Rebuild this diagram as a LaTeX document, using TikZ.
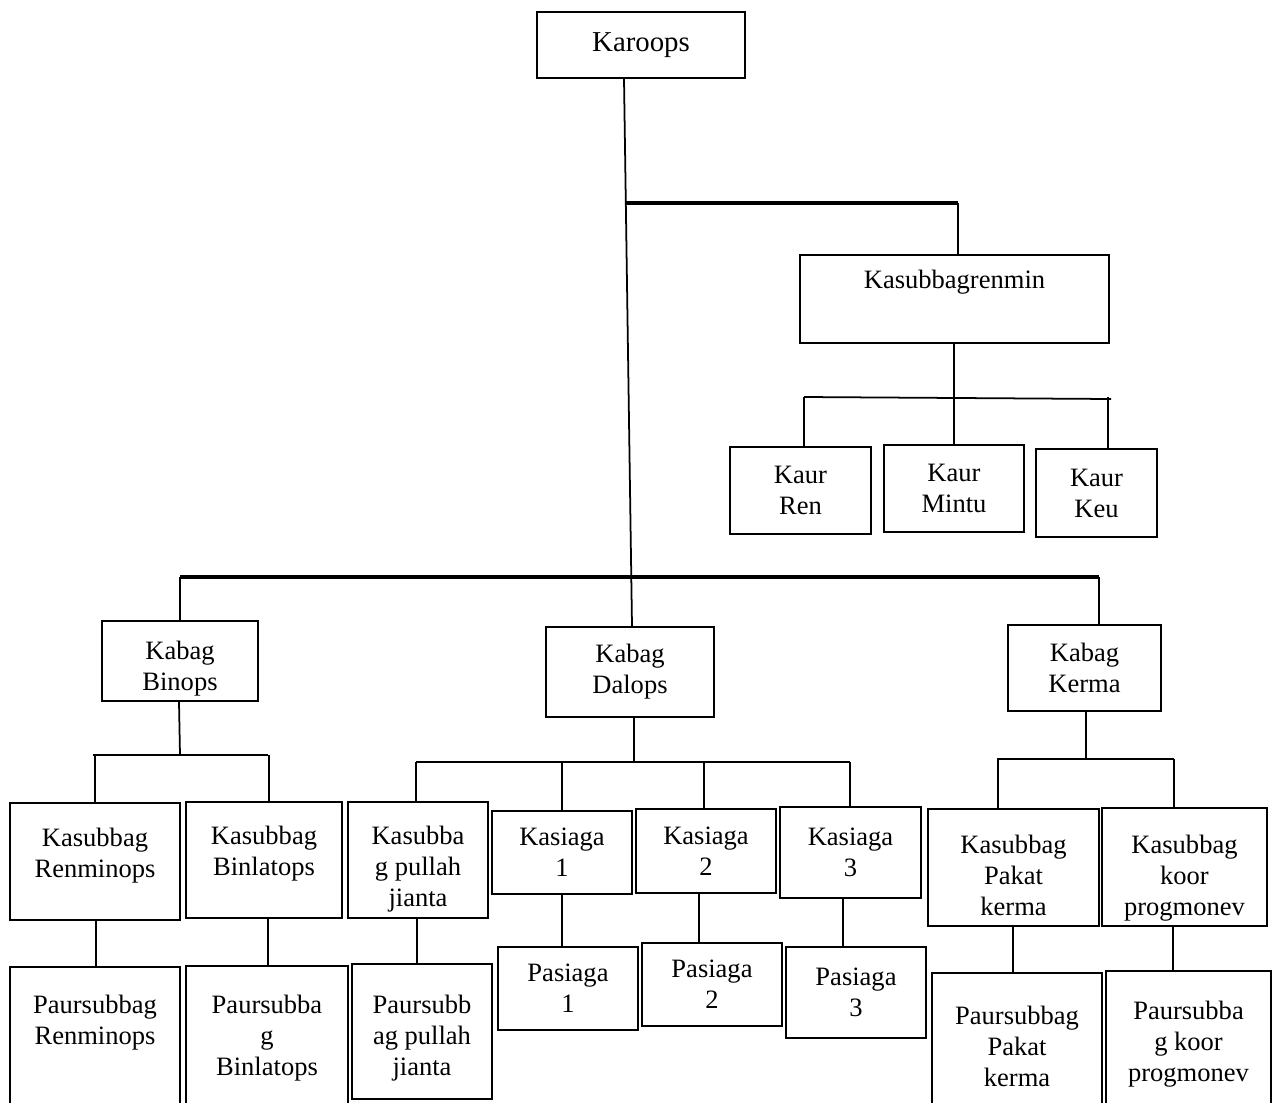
\documentclass[tikz,border=0pt]{standalone}
\usepackage{fontspec}
\setmainfont{Liberation Serif}

\tikzset{
  box/.style={draw, line width=1.1pt, inner sep=0pt, align=center, font=\fontsize{15.1}{17.6}\selectfont},
  bus/.style={line width=1.9pt},
  subbus/.style={line width=1.4pt},
  link/.style={line width=1pt},
}

\begin{document}
\begin{tikzpicture}[x=0.02cm, y=-0.02cm]
  \useasboundingbox (0,0) rectangle (1277,1102);
  \clip (0,0) rectangle (1277,1102);
  % top levels
  \node[box, minimum width=4.16cm, minimum height=1.32cm, font=\fontsize{16.4}{19}\selectfont] (karoops) at (641,45) {Karoops};
  \node[box, minimum width=6.18cm, minimum height=1.76cm] (renmin) at (954.5,299) {Kasubbagrenmin\\\strut};
  \node[box, minimum width=2.82cm, minimum height=1.74cm] (kren) at (800.5,490.5) {Kaur\\Ren};
  \node[box, minimum width=2.80cm, minimum height=1.74cm] (kmintu) at (954,488.5) {Kaur\\Mintu};
  \node[box, minimum width=2.42cm, minimum height=1.76cm] (kkeu) at (1096.5,493) {Kaur\\Keu};
  \node[box, minimum width=3.12cm, minimum height=1.60cm] (binops) at (180,661) {\rule{0pt}{19.3pt}Kabag\\Binops};
  \node[box, minimum width=3.36cm, minimum height=1.80cm] (dalops) at (630,672) {Kabag\\Dalops};
  \node[box, minimum width=3.06cm, minimum height=1.72cm] (kerma) at (1084.5,668) {Kabag\\Kerma};
  % kasubbag / kasiaga
  \node[box, minimum width=3.40cm, minimum height=2.34cm] (renminops) at (95,861.5) {Kasubbag\\Renminops\rule[-10pt]{0pt}{0pt}};
  \node[box, minimum width=3.12cm, minimum height=2.32cm] (binlatops) at (264,860) {Kasubbag\\Binlatops\rule[-11pt]{0pt}{0pt}};
  \node[box, minimum width=2.80cm, minimum height=2.32cm] (pullah) at (418,860) {\rule{0pt}{20.5pt}Kasubba\\g pullah\\jianta};
  \node[box, minimum width=2.80cm, minimum height=1.66cm] (siaga1) at (562,852.5) {Kasiaga\\1};
  \node[box, minimum width=2.80cm, minimum height=1.68cm] (siaga2) at (706,851) {Kasiaga\\2};
  \node[box, minimum width=2.82cm, minimum height=1.82cm] (siaga3) at (850.5,852.5) {Kasiaga\\3};
  \node[box, minimum width=3.42cm, minimum height=2.34cm] (pakat) at (1013.5,867.5) {\rule{0pt}{19.3pt}Kasubbag\\Pakat\\kerma};
  \node[box, minimum width=3.30cm, minimum height=2.36cm] (koor) at (1184.5,867) {\rule{0pt}{22.7pt}Kasubbag\\koor\\progmonev};
  % paursubbag / pasiaga
  \node[box, minimum width=3.40cm, minimum height=2.92cm] (prenminops) at (95,1040) {Paursubbag\\Renminops\\\strut};
  \node[box, minimum width=3.24cm, minimum height=2.88cm] (pbinlatops) at (267,1038) {Paursubba\\g\\Binlatops};
  \node[box, minimum width=2.80cm, minimum height=2.70cm] (ppullah) at (422,1031.5) {\rule{0pt}{18.3pt}Paursubb\\ag pullah\\jianta};
  \node[box, minimum width=2.80cm, minimum height=1.66cm] (pas1) at (568,988.5) {Pasiaga\\1};
  \node[box, minimum width=2.80cm, minimum height=1.66cm] (pas2) at (712,984.5) {Pasiaga\\2};
  \node[box, minimum width=2.80cm, minimum height=1.82cm] (pas3) at (856,992.5) {Pasiaga\\3};
  \node[box, minimum width=3.40cm, minimum height=2.92cm] (ppakat) at (1017,1046) {Paursubbag\\Pakat\\kerma};
  \node[box, minimum width=3.30cm, minimum height=2.92cm] (pkoor) at (1188.5,1044) {Paursubba\\g koor\\progmonev};

  % spine and upper bus
  \draw[link] (karoops.south -| 624,0) -- (dalops.north -| 632,0);
  \coordinate (topl) at (625,203);
  \coordinate (topr) at (958,203);
  \draw[bus] (topl) -- (topr);
  \draw[link] (topr) -- (renmin.north -| topr);
  \draw[subbus] (renmin.south -| 954,0) -- (954,397);
  \draw[link] (804,397) -- (1111,399);
  \foreach \x/\n in {804/kren, 954/kmintu, 1108/kkeu}
    \draw[link] (\x,397) -- (\n.north -| \x,0);

  % lower bus
  \draw[bus] (180,577) -- (1099,577);
  \foreach \x/\n in {180/binops, 1099/kerma}
    \draw[link] (\x,577) -- (\n.north -| \x,0);

  % binops
  \draw[link] (binops.south -| 179,0) -- (180,755);
  \draw[subbus] (93,755) -- (268,755);
  \foreach \x/\n in {95/renminops, 269/binlatops}
    \draw[subbus] (\x,755) -- (\n.north -| \x,0);

  % dalops
  \draw[link] (dalops.south -| 634,0) -- (634,762);
  \draw[subbus] (416,762) -- (850,762);
  \foreach \x/\n in {416/pullah, 562/siaga1, 704/siaga2, 850/siaga3}
    \draw[link] (\x,762) -- (\n.north -| \x,0);

  % kerma
  \draw[subbus] (kerma.south -| 1086,0) -- (1086,759);
  \draw[subbus] (997,759) -- (1174,759);
  \foreach \x/\n in {998/pakat, 1174/koor}
    \draw[link] (\x,759) -- (\n.north -| \x,0);

  % down to the last row
  \foreach \a/\b/\x in {renminops/prenminops/96, binlatops/pbinlatops/268, pullah/ppullah/417,
      siaga1/pas1/562, siaga2/pas2/699, siaga3/pas3/843, pakat/ppakat/1013, koor/pkoor/1173}
    \draw[link] (\a.south -| \x,0) -- (\b.north -| \x,0);
\end{tikzpicture}
\end{document}
